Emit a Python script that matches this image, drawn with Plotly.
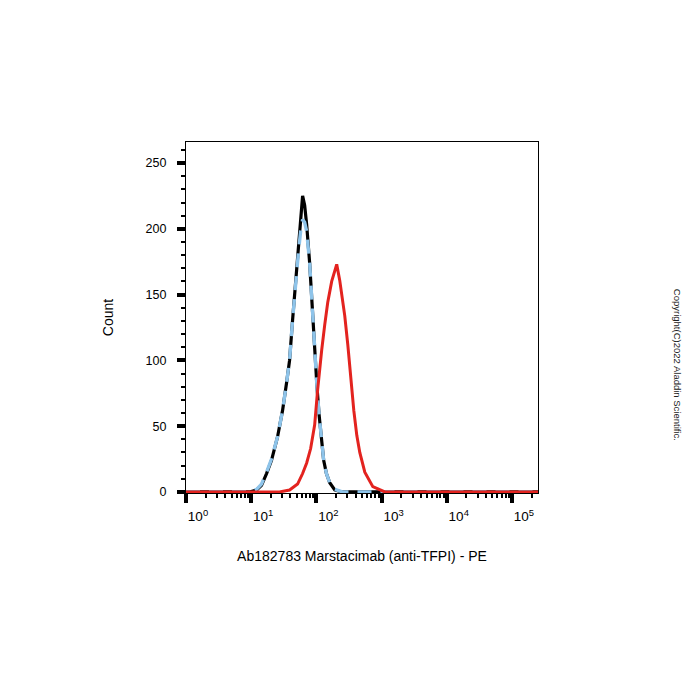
import plotly.graph_objects as go

# ---------------- data ----------------
# fluorescence intensity (PE) and counts
black_x = [1.0, 9.4, 12.1, 14.4, 17.2, 20.5, 25.4, 30.3, 34.9, 38.8, 43.2, 48.1, 53.5, 57.3,
           61.5, 66.1, 71.0, 78.9, 86.7, 94.2, 102.1, 110.4, 119.4, 129.4, 142.6, 160.3,
           191.4, 245.5, 251000]
black_y = [0, 0, 1.5, 5, 14, 24, 42, 62, 83, 100, 131, 161, 188, 203,
           225, 218, 203, 174, 136, 110, 80, 58, 40, 24, 14, 7,
           1.5, 0, 0]

blue_x = [1.0, 9.0, 12.1, 14.4, 17.2, 20.5, 25.4, 30.3, 34.9, 38.8, 43.2, 48.1, 53.5, 57.3,
          61.5, 66.1, 71.0, 78.9, 86.7, 94.2, 102.1, 110.4, 119.4, 129.4, 142.6, 160.3,
          191.4, 250.0, 251000]
blue_y = [0, 0, 2, 6, 15, 25, 42, 62, 83, 100, 131, 161, 184, 198,
          207, 205, 198, 174, 136, 110, 80, 58, 40, 24, 14, 7,
          2, 0, 0]

red_x = [1.0, 27.2, 38.8, 51.5, 61.5, 71.0, 81.7, 94.2, 104.7, 112.5, 120.8, 134.3, 149.3,
         171.8, 191.4, 205.1, 228.0, 244.9, 272.3, 303.4, 337.3, 375.0, 416.9, 463.4,
         553.4, 734.5, 1124, 251000]
red_y = [0, 0, 1.5, 6, 14, 22, 33, 51, 78, 96, 108, 127, 144,
         160, 169, 173, 161, 150, 134, 112, 85, 62, 43, 30,
         15, 4, 0, 0]

x_tick_vals = [1, 10, 100, 1000, 10000, 100000]
x_tick_text = ["10<sup>0</sup>", "10<sup>1</sup>", "10<sup>2</sup>",
               "10<sup>3</sup>", "10<sup>4</sup>", "10<sup>5</sup>"]
x_minor_vals = [m * 10 ** k for k in range(0, 6) for m in range(2, 10) if m * 10 ** k < 2.6e5]

y_tick_vals = [0, 50, 100, 150, 200, 250]
y_minor_vals = [v for v in range(0, 261, 10) if v % 50 != 0]

x_title = "Ab182783 Marstacimab (anti-TFPI) - PE"
y_title = "Count"
copyright_text = "Copyright(C)2022 Aladdin Scientific."

FONT = "Arial, 'Liberation Sans', sans-serif"

fig = go.Figure()
fig.add_trace(go.Scatter(x=black_x, y=black_y, mode="lines",
                         line=dict(color="#000000", width=3.2), hoverinfo="skip"))
fig.add_trace(go.Scatter(x=blue_x, y=blue_y, mode="lines",
                         line=dict(color="#8EC4EA", width=3.4, dash="14px,9px"), hoverinfo="skip"))
fig.add_trace(go.Scatter(x=red_x, y=red_y, mode="lines",
                         line=dict(color="#E3231F", width=3), hoverinfo="skip"))

fig.update_layout(
    width=700, height=700,
    margin=dict(l=186, r=162, t=142, b=207),
    paper_bgcolor="white", plot_bgcolor="white",
    showlegend=False,
    font=dict(family=FONT, color="#000000"),
    xaxis=dict(
        type="log", range=[0, 5.4],
        tickmode="array", tickvals=x_tick_vals, ticktext=x_tick_text,
        ticks="outside", ticklen=9, tickwidth=3.5, tickcolor="#000000",
        ticklabelshift=12, ticklabelstandoff=2,
        tickfont=dict(size=13.5),
        minor=dict(tickmode="array", tickvals=x_minor_vals, ticks="outside",
                   ticklen=4, tickwidth=2, tickcolor="#000000", showgrid=False),
        showgrid=False, zeroline=False,
        showline=True, linecolor="#000000", linewidth=1.2, mirror=True,
        title=dict(text=x_title, font=dict(size=14), standoff=27),
    ),
    yaxis=dict(
        range=[-0.8, 266],
        tickmode="array", tickvals=y_tick_vals,
        ticks="outside", ticklen=8, tickwidth=3.5, tickcolor="#000000",
        ticklabelstandoff=8,
        tickfont=dict(size=12.5),
        minor=dict(tickmode="array", tickvals=y_minor_vals, ticks="outside",
                   ticklen=4, tickwidth=1.5, tickcolor="#000000", showgrid=False),
        showgrid=False, zeroline=False,
        showline=True, linecolor="#000000", linewidth=1.2, mirror=True,
        title=dict(text=y_title, font=dict(size=14), standoff=28),
    ),
    annotations=[dict(
        text=copyright_text, textangle=90, showarrow=False,
        xref="paper", yref="paper", x=1.395, y=0.365,
        xanchor="center", yanchor="middle",
        font=dict(size=9.5, color="#222222"),
    )],
)

fig.write_html("out.html")
